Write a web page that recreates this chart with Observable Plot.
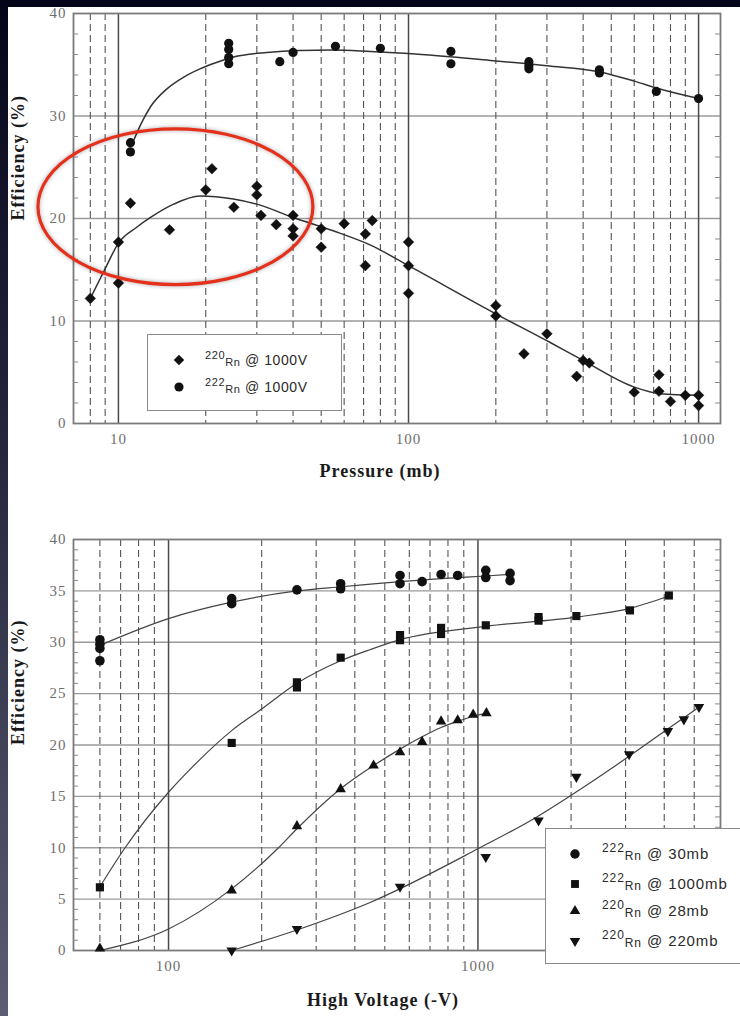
<!DOCTYPE html>
<html>
<head>
<meta charset="utf-8">
<script src="https://cdn.jsdelivr.net/npm/d3@7"></script>
<script src="https://cdn.jsdelivr.net/npm/@observablehq/plot@0.6"></script>
<style>
html, body { margin: 0; padding: 0; width: 740px; height: 1016px; overflow: hidden; background: #06061a; }
#page { position: absolute; left: 0; top: 0; width: 740px; height: 1016px; overflow: hidden;
  background: linear-gradient(#05051a 0%, #2a2c42 50%, #5b5d72 100%); }
#paper { position: absolute; left: 8px; top: 7px; width: 732px; height: 1009px; background: #fff; }
#topWrap { position: absolute; left: 0; top: 0; }
#botWrap { position: absolute; left: 0; top: 500px; }
.legend { position: absolute; box-sizing: border-box; background: #fff; border: 1.5px solid #8a8a8a;
  font-family: "Liberation Sans", Arial, sans-serif; color: #2a2a2a; }
.legend .row { position: absolute; left: 0; height: 20px; width: 100%; }
.legend .mk { position: absolute; top: 3px; width: 14px; height: 14px; }
.legend .txt { position: absolute; top: 0; height: 20px; line-height: 20px; white-space: nowrap; letter-spacing: 0.6px; }
.legend .iso { font-size: 11px; position: relative; top: -6px; }
.legend .el { font-size: 11px; position: relative; top: 1px; }
.legend .rest { font-size: 14px; }
#legBot .txt { letter-spacing: 0.9px; }
#legBot .iso { font-size: 12px; top: -7px; }
#legBot .el { font-size: 12px; }
#legBot .rest { font-size: 15px; }
</style>
</head>
<body>
<div id="page">
  <div id="paper"></div>
  <div id="topWrap"></div>
  <div id="botWrap"></div>
  <div class="legend" id="legTop"></div>
  <div class="legend" id="legBot"></div>
</div>
<script>
// ---------------- Top panel data: efficiency vs pressure ----------------
const rn220PressureX = [8, 10, 10, 11, 15, 20, 21, 25, 30, 30, 31, 35, 40, 40, 40, 50, 50, 60, 71, 71, 75, 100, 100, 100, 200, 200, 250, 300, 380, 400, 420, 600, 730, 730, 800, 900, 1000, 1000];
const rn220PressureY = [12.2, 17.7, 13.7, 21.5, 18.9, 22.8, 24.85, 21.1, 23.15, 22.3, 20.3, 19.4, 20.3, 19.0, 18.3, 19.0, 17.2, 19.5, 18.5, 15.4, 19.8, 17.7, 15.4, 12.7, 11.5, 10.5, 6.8, 8.75, 4.6, 6.15, 5.9, 3.05, 4.75, 3.15, 2.15, 2.75, 2.75, 1.75];
const rn222PressureX = [11, 11, 24, 24, 24, 24, 36, 40, 56, 80, 140, 140, 260, 260, 260, 455, 455, 715, 1000];
const rn222PressureY = [27.4, 26.5, 37.1, 36.5, 35.7, 35.1, 35.3, 36.2, 36.8, 36.6, 36.3, 35.1, 35.3, 34.9, 34.6, 34.5, 34.2, 32.4, 31.7];

// fitted curves
const rn220PressureFitX = [8, 9, 10, 11.5, 12.9, 15.5, 19.1, 24.9, 30, 40, 55, 74, 100, 200, 308, 391, 600, 738, 1000];
const rn220PressureFitY = [12.2, 15.1, 17.6, 19.1, 20.1, 21.4, 22.2, 21.9, 21.4, 20.1, 18.8, 17.4, 15.4, 10.7, 7.9, 6.3, 3.55, 2.9, 2.75];
const rn222PressureFitX = [11.2, 12, 12.9, 14.7, 16.8, 19.1, 21.9, 24.9, 32.5, 42, 55, 74, 100, 196, 300, 457, 600, 720, 1000];
const rn222PressureFitY = [27.4, 29.3, 30.9, 32.65, 33.8, 34.6, 35.25, 35.75, 36.2, 36.4, 36.45, 36.3, 36.1, 35.4, 34.9, 34.3, 33.4, 32.7, 31.7];

// ticks / grid of the top panel
const topXDomain = [7, 1190];
const topYDomain = [0, 40];
const topYLabels = [0, 10, 20, 30, 40];
const topYMinor = [2, 4, 6, 8, 12, 14, 16, 18, 22, 24, 26, 28, 32, 34, 36, 38];
const topXLabels = [10, 100, 1000];
const topHGrid = [10, 20, 30];
const topDecadeGrid = [10, 100, 1000];
const topDashedGrid = [8, 9, 20, 30, 40, 50, 60, 70, 80, 90, 200, 300, 400, 500, 600, 700, 800, 900];

// annotated region (red ellipse), in data units
const circledPressure = [5.3, 47];
const circledEfficiency = [13.5, 28.7];

// ---------------- Bottom panel data: efficiency vs high voltage ----------------
const rn222at30X = [60, 60, 60, 60, 160, 160, 260, 360, 360, 560, 560, 660, 760, 860, 1060, 1060, 1270, 1270];
const rn222at30Y = [30.25, 29.8, 29.4, 28.2, 34.25, 33.75, 35.1, 35.7, 35.2, 36.5, 35.7, 35.9, 36.6, 36.5, 37.0, 36.3, 36.7, 36.0];
const rn222at1000X = [60, 160, 260, 260, 360, 560, 560, 760, 760, 1060, 1570, 1570, 2080, 3100, 4140];
const rn222at1000Y = [6.15, 20.2, 26.1, 25.6, 28.5, 30.7, 30.2, 31.4, 30.8, 31.65, 32.45, 32.1, 32.55, 33.1, 34.55];
const rn220at28X = [60, 160, 260, 360, 460, 560, 660, 760, 860, 965, 1065];
const rn220at28Y = [0.2, 5.85, 12.1, 15.7, 18.0, 19.3, 20.3, 22.3, 22.4, 22.95, 23.1];
const rn220at220X = [160, 260, 560, 1060, 1570, 2080, 3080, 4110, 4630, 5180];
const rn220at220Y = [0.0, 2.1, 6.2, 9.1, 12.65, 16.9, 19.1, 21.35, 22.5, 23.7];

const fit30X = [60, 100, 160, 260, 360, 450, 560, 760, 1060, 1270];
const fit30Y = [29.7, 32.3, 33.9, 35.0, 35.4, 35.65, 35.9, 36.2, 36.45, 36.6];
const fit1000X = [60, 72, 100, 118, 160, 200, 260, 360, 450, 560, 1060, 2080, 3100, 4140];
const fit1000Y = [6.2, 9.9, 15.4, 17.7, 21.4, 23.5, 26.0, 28.2, 29.3, 30.25, 31.55, 32.45, 33.3, 34.5];
const fit28X = [60, 100, 160, 225, 260, 360, 460, 560, 660, 760, 860, 965, 1065];
const fit28Y = [0.0, 2.1, 6.0, 9.9, 11.85, 15.75, 18.0, 19.6, 20.8, 21.7, 22.3, 22.8, 23.1];
const fit220X = [160, 260, 450, 1000, 1550, 2000, 3030, 4040, 5080];
const fit220Y = [0, 2.0, 4.7, 9.9, 13.0, 15.1, 18.75, 21.4, 23.5];

const botXDomain = [49.3, 6080];
const botYDomain = [0, 40];
const botYLabels = [0, 5, 10, 15, 20, 25, 30, 35, 40];
const botYMinor = [1, 2, 3, 4, 6, 7, 8, 9, 11, 12, 13, 14, 16, 17, 18, 19, 21, 22, 23, 24, 26, 27, 28, 29, 31, 32, 33, 34, 36, 37, 38, 39];
const botXLabels = [100, 1000];
const botHGrid = [5, 10, 15, 20, 25, 30, 35];
const botDecadeGrid = [100, 1000];
const botDashedGrid = [60, 70, 80, 90, 200, 300, 400, 500, 600, 700, 800, 900, 2000, 3000, 4000, 5000];

// legends
const topLegendIso = ["220", "222"];
const topLegendRest = [" @ 1000V", " @ 1000V"];
const botLegendIso = ["222", "222", "220", "220"];
const botLegendRest = [" @ 30mb", " @ 1000mb", " @ 28mb", " @ 220mb"];

// ---------------- helpers ----------------
const zip = (xs, ys) => xs.map((x, i) => ({x, y: ys[i]}));
const triangleDown = {
  draw(context, size) {
    const s3 = Math.sqrt(3);
    const y = -Math.sqrt(size / (s3 * 3));
    context.moveTo(0, -y * 2);
    context.lineTo(-s3 * y, y);
    context.lineTo(s3 * y, y);
    context.closePath();
  }
};

const ink = "#111";
const svgStyle = {background: "transparent", fontFamily: "'Liberation Serif', serif", fontSize: "15px", letterSpacing: "1px", overflow: "visible"};

function ellipseMark(px, py) {
  return (index, scales) => {
    const x1 = scales.x(px[0]), x2 = scales.x(px[1]);
    const y1 = scales.y(py[0]), y2 = scales.y(py[1]);
    const e = document.createElementNS("http://www.w3.org/2000/svg", "ellipse");
    e.setAttribute("cx", (x1 + x2) / 2);
    e.setAttribute("cy", (y1 + y2) / 2);
    e.setAttribute("rx", Math.abs(x2 - x1) / 2);
    e.setAttribute("ry", Math.abs(y2 - y1) / 2);
    e.setAttribute("fill", "none");
    e.setAttribute("stroke", "#e5301c");
    e.setAttribute("stroke-width", "3.2");
    e.setAttribute("style", "filter: drop-shadow(0 0 2px rgba(0,0,0,0.35))");
    return e;
  };
}

function gridAndAxes(o) {
  return [
    Plot.ruleY(o.hGrid, {stroke: "#9a9a9a", strokeWidth: 1.3}),
    Plot.ruleX(o.dashed, {stroke: "#555", strokeWidth: 1.1, strokeDasharray: "7,4"}),
    Plot.ruleX(o.decades, {stroke: "#4a4a4a", strokeWidth: 1.5}),
    Plot.frame({stroke: "#7a7a7a", strokeWidth: 1.8}),
    Plot.axisY({anchor: "left", ticks: o.yMinor, tickSize: -5, tickFormat: () => "", label: null, stroke: "#888"}),
    Plot.axisY({anchor: "right", ticks: o.yMinor, tickSize: -6, tickFormat: () => "", label: null, stroke: "#888"}),
    Plot.axisY({anchor: "left", ticks: o.yLabels, tickSize: 0, tickPadding: 7, label: null, fill: "#6e6e6e", fontSize: 15}),
    Plot.axisX({anchor: "bottom", ticks: o.xLabels, tickSize: 0, tickPadding: 10, label: null, fill: "#6e6e6e", fontSize: 15, tickFormat: d3.format("d")}),
    Plot.text([o.yTitle], {text: d => d, frameAnchor: "left", rotate: -90, dx: -55, dy: o.yTitleDy, fontWeight: "bold", fontSize: 18, fontFamily: "'Liberation Serif', serif", fill: "#1a1a1a"}),
    Plot.text([o.xTitle], {text: d => d, frameAnchor: "bottom", dy: o.xTitleDy, dx: o.xTitleDx, fontWeight: "bold", fontSize: 18, fontFamily: "'Liberation Serif', serif", fill: "#1a1a1a"})
  ];
}

// ---------------- top plot ----------------
const topPlot = Plot.plot({
  width: 740, height: 500,
  marginLeft: 73, marginRight: 20, marginTop: 13, marginBottom: 77,
  x: {type: "log", domain: topXDomain},
  y: {domain: topYDomain},
  style: svgStyle,
  marks: [
    ...gridAndAxes({hGrid: topHGrid, dashed: topDashedGrid, decades: topDecadeGrid, yMinor: topYMinor, yLabels: topYLabels, xLabels: topXLabels,
      yTitle: "Efficiency (%)", yTitleDy: 2, xTitle: "Pressure (mb)", xTitleDy: 53, xTitleDx: -17}),
    Plot.line(zip(rn222PressureFitX, rn222PressureFitY), {x: "x", y: "y", curve: "monotone-x", stroke: "#333", strokeWidth: 1.5}),
    Plot.line(zip(rn220PressureFitX, rn220PressureFitY), {x: "x", y: "y", curve: "monotone-x", stroke: "#333", strokeWidth: 1.5}),
    Plot.dot(zip(rn222PressureX, rn222PressureY), {x: "x", y: "y", r: 4.6, symbol: "circle", fill: ink}),
    Plot.dot(zip(rn220PressureX, rn220PressureY), {x: "x", y: "y", r: 4.8, symbol: "diamond2", fill: ink, stroke: ink, strokeWidth: 0.5}),
    ellipseMark(circledPressure, circledEfficiency)
  ]
});
document.getElementById("topWrap").appendChild(topPlot);

// ---------------- bottom plot ----------------
const botPlot = Plot.plot({
  width: 740, height: 516,
  marginLeft: 73, marginRight: 20, marginTop: 39, marginBottom: 66,
  x: {type: "log", domain: botXDomain},
  y: {domain: botYDomain},
  style: svgStyle,
  marks: [
    ...gridAndAxes({hGrid: botHGrid, dashed: botDashedGrid, decades: botDecadeGrid, yMinor: botYMinor, yLabels: botYLabels, xLabels: botXLabels,
      yTitle: "Efficiency (%)", yTitleDy: 0, xTitle: "High Voltage (-V)", xTitleDy: 55, xTitleDx: -14}),
    Plot.line(zip(fit30X, fit30Y), {x: "x", y: "y", curve: "monotone-x", stroke: "#444", strokeWidth: 1.2}),
    Plot.line(zip(fit1000X, fit1000Y), {x: "x", y: "y", curve: "monotone-x", stroke: "#444", strokeWidth: 1.2}),
    Plot.line(zip(fit28X, fit28Y), {x: "x", y: "y", curve: "monotone-x", stroke: "#444", strokeWidth: 1.2}),
    Plot.line(zip(fit220X, fit220Y), {x: "x", y: "y", curve: "monotone-x", stroke: "#444", strokeWidth: 1.2}),
    Plot.dot(zip(rn222at30X, rn222at30Y), {x: "x", y: "y", r: 4.8, symbol: "circle", fill: ink}),
    Plot.dot(zip(rn222at1000X, rn222at1000Y), {x: "x", y: "y", r: 4.6, symbol: "square", fill: ink}),
    Plot.dot(zip(rn220at28X, rn220at28Y), {x: "x", y: "y", r: 3.9, symbol: "triangle", fill: ink}),
    Plot.dot(zip(rn220at220X, rn220at220Y), {x: "x", y: "y", r: 3.9, symbol: triangleDown, fill: ink})
  ]
});
document.getElementById("botWrap").appendChild(botPlot);

// ---------------- legends (HTML overlays) ----------------
function legendMarker(type, size) {
  const path = d3.symbol(type, size)();
  return `<svg class="mk" viewBox="-7 -7 14 14"><path d="${path}" fill="${ink}"/></svg>`;
}
function buildLegend(el, box, rows) {
  Object.assign(el.style, {left: box.left + "px", top: box.top + "px", width: box.width + "px", height: box.height + "px"});
  el.innerHTML = rows.map(r =>
    `<div class="row" style="top:${r.cy - 10}px">` +
      `<div style="position:absolute;left:${box.markerX - 7}px;top:0;width:14px;height:20px">${legendMarker(r.type, r.size)}</div>` +
      `<div class="txt" style="left:${box.textX}px"><span class="iso">${r.iso}</span><span class="el">Rn</span><span class="rest">${r.rest}</span></div>` +
    `</div>`).join("");
}
buildLegend(document.getElementById("legTop"),
  {left: 147, top: 334, width: 195, height: 77, markerX: 31, textX: 57},
  [
    {cy: 25, type: d3.symbolDiamond2, size: 70, iso: topLegendIso[0], rest: topLegendRest[0]},
    {cy: 52, type: d3.symbolCircle, size: 66, iso: topLegendIso[1], rest: topLegendRest[1]}
  ]);
buildLegend(document.getElementById("legBot"),
  {left: 545, top: 828, width: 215, height: 136, markerX: 29, textX: 56},
  [
    {cy: 25, type: d3.symbolCircle, size: 70, iso: botLegendIso[0], rest: botLegendRest[0]},
    {cy: 55, type: d3.symbolSquare, size: 62, iso: botLegendIso[1], rest: botLegendRest[1]},
    {cy: 82, type: d3.symbolTriangle, size: 48, iso: botLegendIso[2], rest: botLegendRest[2]},
    {cy: 112, type: triangleDown, size: 48, iso: botLegendIso[3], rest: botLegendRest[3]}
  ]);
</script>
</body>
</html>
